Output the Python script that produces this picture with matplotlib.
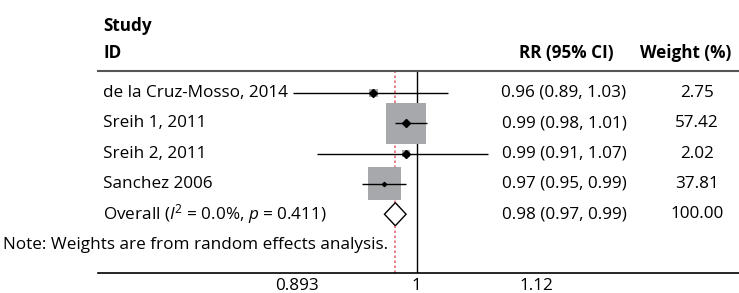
import numpy as np
import matplotlib
matplotlib.use("Agg")
import matplotlib.pyplot as plt
from matplotlib.patches import Polygon

plt.rcParams['font.family'] = ['Open Sans', 'DejaVu Sans']
plt.rcParams['mathtext.fontset'] = 'custom'
plt.rcParams['mathtext.rm'] = 'Open Sans'
plt.rcParams['mathtext.it'] = 'Open Sans:italic'

# study data
studies = ["de la Cruz-Mosso, 2014", "Sreih 1, 2011", "Sreih 2, 2011", "Sanchez 2006"]
rr = [0.96, 0.99, 0.99, 0.97]
lo = [0.89, 0.98, 0.91, 0.95]
hi = [1.03, 1.01, 1.07, 0.99]
weights = [2.75, 57.42, 2.02, 37.81]

overall_label = "Overall ($I^2$ = 0.0%, $p$ = 0.411)"
overall = (0.98, 0.97, 0.99)
note = "Note: Weights are from random effects analysis."

xticks = [0.893, 1, 1.12]
xticklabels = ["0.893", "1", "1.12"]

fs = 12.3
fig = plt.figure(figsize=(7.39, 2.93), dpi=100)
ax = fig.add_axes([98 / 739, 20 / 293, 641 / 739, 202 / 293])
ax.set_xscale('log')
ax.set_xlim(0.7403, 1.3553)
ax.set_ylim(5.94, -0.726)

rows = np.arange(len(studies))

# weight boxes (area proportional to weight)
ax.scatter(rr, rows, s=np.array(weights) * 14.8, marker='s', color='#a7a8ab',
           edgecolors='none', zorder=2)
ax.hlines(rows, lo, hi, color='black', lw=1.0, zorder=3)
dot_sizes = [3.6, 4.0, 3.6, 2.2]
for r, y, ms in zip(rr, rows, dot_sizes):
    ax.plot(r, y, marker='D', color='black', ms=ms, zorder=4)

# overall diamond
oy = len(studies)
est, olo, ohi = overall
ax.add_patch(Polygon([(olo, oy), (est, oy - 0.38), (ohi, oy), (est, oy + 0.38)],
                     closed=True, facecolor='white', edgecolor='black', lw=1.0, zorder=4))

ax.axvline(1, color='black', lw=1.0, zorder=1)
ax.axvline(est, color='#e06a74', lw=1.2, ls=(0, (1.5, 1.5)), zorder=1)

# text columns
tr = ax.get_yaxis_transform()
for y, name in enumerate(studies):
    ax.text(0.008, y, name, transform=tr, ha='left', va='center', fontsize=fs)
ax.text(0.008, oy, overall_label, transform=tr, ha='left', va='center', fontsize=fs)
for y, (r, l, h, w) in enumerate(zip(rr, lo, hi, weights)):
    ax.text(0.727, y, f"{r:.2f} ({l:.2f}, {h:.2f})", transform=tr, ha='center', va='center', fontsize=fs)
    ax.text(0.9345, y, f"{w:.2f}", transform=tr, ha='center', va='center', fontsize=fs)
ax.text(0.727, oy, f"{est:.2f} ({olo:.2f}, {ohi:.2f})", transform=tr, ha='center', va='center', fontsize=fs)
ax.text(0.9345, oy, "100.00", transform=tr, ha='center', va='center', fontsize=fs)
ax.text(0.4524, oy + 1.02, note, transform=tr, ha='right', va='center', fontsize=fs, clip_on=False)

# headers
ax.text(0.008, -2.22, "Study", transform=tr, ha='left', va='center', fontsize=fs, fontweight='bold')
ax.text(0.008, -1.32, "ID", transform=tr, ha='left', va='center', fontsize=fs, fontweight='bold')
ax.text(0.730, -1.32, "RR (95% CI)", transform=tr, ha='center', va='center', fontsize=fs, fontweight='bold')
ax.text(0.916, -1.32, "Weight (%)", transform=tr, ha='center', va='center', fontsize=fs, fontweight='bold')

ax.set_xticks(xticks)
ax.set_xticklabels(xticklabels)
ax.xaxis.set_minor_locator(matplotlib.ticker.NullLocator())
ax.tick_params(axis='x', length=0, pad=3.8, labelsize=fs)
ax.set_yticks([])
ax.spines['left'].set_visible(False)
ax.spines['right'].set_visible(False)
ax.spines['top'].set_color('#555555')
ax.spines['top'].set_linewidth(1.5)
ax.spines['bottom'].set_linewidth(1.2)

fig.savefig("out.png", dpi=100)
